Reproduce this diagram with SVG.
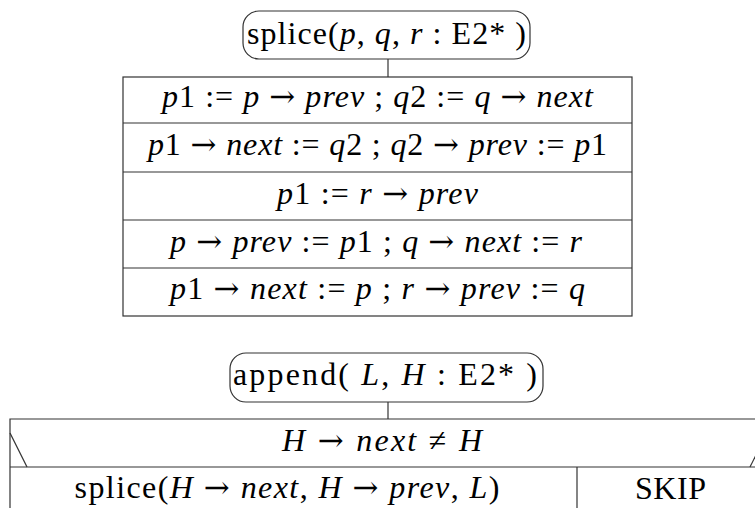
<svg xmlns="http://www.w3.org/2000/svg" width="755" height="508" viewBox="0 0 755 508">
<style>
  .ln{fill:none;stroke:#333;stroke-width:1.2}
  .bx{fill:#fff;stroke:#333;stroke-width:1.2}
  text{font-family:"Liberation Serif","Times New Roman",serif;font-size:32px;fill:#000;text-anchor:middle}
  .i{font-style:italic}
  .a{font-family:"DejaVu Serif",serif;font-size:31px}
</style>
<rect width="755" height="508" fill="#fff"/>
<g id="connectors">
  <line class="ln" x1="388" y1="59" x2="388" y2="77"/>
  <line class="ln" x1="388" y1="402" x2="388" y2="419"/>
</g>
<g id="splice-head">
  <rect class="bx" x="243" y="11" width="287" height="48" rx="16" ry="16"/>
  <text x="386.5" y="44" textLength="279" lengthAdjust="spacing">splice(<tspan class="i">p</tspan>, <tspan class="i">q</tspan>, <tspan class="i">r</tspan> : E2* )</text>
</g>
<g id="splice-body">
  <rect class="bx" x="123" y="77" width="509" height="239"/>
  <line class="ln" x1="123" y1="123" x2="632" y2="123"/>
  <line class="ln" x1="123" y1="172" x2="632" y2="172"/>
  <line class="ln" x1="123" y1="220" x2="632" y2="220"/>
  <line class="ln" x1="123" y1="268" x2="632" y2="268"/>
</g>
<g id="row1"><text x="377.5" y="107" textLength="431" lengthAdjust="spacing"><tspan class="i">p</tspan>1 := <tspan class="i">p</tspan> <tspan class="a">→</tspan> <tspan class="i">prev</tspan> ; <tspan class="i">q</tspan>2 := <tspan class="i">q</tspan> <tspan class="a">→</tspan> <tspan class="i">next</tspan></text></g>
<g id="row2"><text x="377.5" y="155" textLength="459" lengthAdjust="spacing"><tspan class="i">p</tspan>1 <tspan class="a">→</tspan> <tspan class="i">next</tspan> := <tspan class="i">q</tspan>2 ; <tspan class="i">q</tspan>2 <tspan class="a">→</tspan> <tspan class="i">prev</tspan> := <tspan class="i">p</tspan>1</text></g>
<g id="row3"><text x="377.5" y="204" textLength="201" lengthAdjust="spacing"><tspan class="i">p</tspan>1 := <tspan class="i">r</tspan> <tspan class="a">→</tspan> <tspan class="i">prev</tspan></text></g>
<g id="row4"><text x="376" y="252" textLength="412" lengthAdjust="spacing"><tspan class="i">p</tspan> <tspan class="a">→</tspan> <tspan class="i">prev</tspan> := <tspan class="i">p</tspan>1 ; <tspan class="i">q</tspan> <tspan class="a">→</tspan> <tspan class="i">next</tspan> := <tspan class="i">r</tspan></text></g>
<g id="row5"><text x="377.5" y="299" textLength="415" lengthAdjust="spacing"><tspan class="i">p</tspan>1 <tspan class="a">→</tspan> <tspan class="i">next</tspan> := <tspan class="i">p</tspan> ; <tspan class="i">r</tspan> <tspan class="a">→</tspan> <tspan class="i">prev</tspan> := <tspan class="i">q</tspan></text></g>
<g id="append-head">
  <rect class="bx" x="230" y="353" width="313" height="49" rx="16" ry="16"/>
  <text x="385" y="385" textLength="304" lengthAdjust="spacing">append( <tspan class="i">L</tspan>, <tspan class="i">H</tspan> : E2* )</text>
</g>
<g id="append-cond">
  <polyline class="ln" points="10,520 10,419 767,419"/>
  <line class="ln" x1="10" y1="467" x2="767" y2="467"/>
  <line class="ln" x1="10" y1="433" x2="27" y2="467"/>
  <line class="ln" x1="750" y1="467" x2="767" y2="433"/>
  <text x="382" y="451" textLength="200" lengthAdjust="spacing"><tspan class="i">H</tspan> <tspan class="a">→</tspan> <tspan class="i">next</tspan> ≠ <tspan class="i">H</tspan></text>
</g>
<g id="append-then">
  <line class="ln" x1="577" y1="467" x2="577" y2="520"/>
  <text x="287" y="498" textLength="425" lengthAdjust="spacing">splice(<tspan class="i">H</tspan> <tspan class="a">→</tspan> <tspan class="i">next</tspan>, <tspan class="i">H</tspan> <tspan class="a">→</tspan> <tspan class="i">prev</tspan>, <tspan class="i">L</tspan>)</text>
</g>
<g id="append-else">
  <text x="670.5" y="499" textLength="71" lengthAdjust="spacing">SKIP</text>
</g>
</svg>
